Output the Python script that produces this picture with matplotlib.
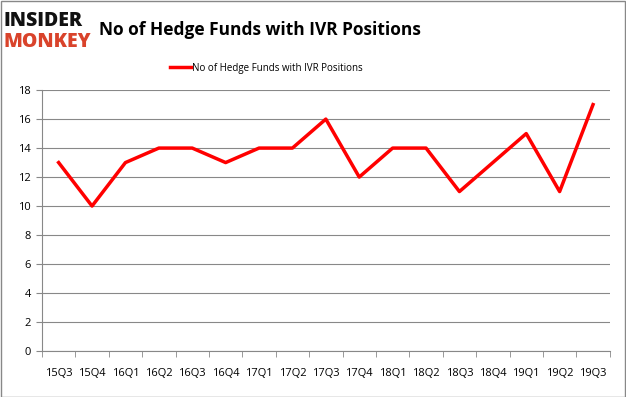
import matplotlib
matplotlib.use('Agg')
import matplotlib.pyplot as plt
from matplotlib.patches import Rectangle

# quarter labels and number of hedge funds
quarters = ['15Q3', '15Q4', '16Q1', '16Q2', '16Q3', '16Q4', '17Q1', '17Q2', '17Q3',
            '17Q4', '18Q1', '18Q2', '18Q3', '18Q4', '19Q1', '19Q2', '19Q3']
funds = [13, 10, 13, 14, 14, 13, 14, 14, 16, 12, 14, 14, 11, 13, 15, 11, 17]
yticks = [0, 2, 4, 6, 8, 10, 12, 14, 16, 18]

plt.rcParams['font.family'] = ['Open Sans', 'DejaVu Sans']

fig = plt.figure(figsize=(6.26, 3.97), dpi=100)
ax = fig.add_axes([0.067, 0.116, 0.907, 0.657])

x = list(range(len(quarters)))
ax.plot(x, funds, color='#ff0000', lw=2.5, label='No of Hedge Funds with IVR Positions')

ax.set_xlim(-0.5, len(quarters) - 0.5)
ax.set_ylim(0, 18)
ax.set_yticks(yticks)
ax.set_yticklabels([str(v) for v in yticks], fontsize=8)
ax.set_xticks(x)
ax.set_xticklabels(quarters, fontsize=8)
ax.set_xticks([i - 0.5 for i in range(len(quarters) + 1)], minor=True)
ax.tick_params(axis='x', which='major', length=0, pad=12)
ax.tick_params(axis='x', which='minor', length=4, color='#888888')
ax.tick_params(axis='y', length=4, color='#888888', pad=4)
ax.grid(axis='y', color='#888888', lw=0.8)
ax.set_axisbelow(True)
for s in ['top', 'right']:
    ax.spines[s].set_visible(False)
for s in ['left', 'bottom']:
    ax.spines[s].set_color('#888888')

ax.legend(loc='lower center', bbox_to_anchor=(0.395, 1.03), frameon=False, fontsize=7,
          handlelength=2.2, handletextpad=0.1)

fig.text(0.415, 0.925, 'No of Hedge Funds with IVR Positions', ha='center', va='center',
         fontsize=12.5, fontweight='bold')
fig.text(0.006, 0.947, 'INSIDER', ha='left', va='center', fontsize=14, fontweight='black',
         color='#111111')
fig.text(0.006, 0.893, 'MONKEY', ha='left', va='center', fontsize=14, fontweight='black',
         color='#d9432b')

fig.patches.append(Rectangle((0.001, 0.001), 0.997, 0.997, transform=fig.transFigure,
                             fill=False, edgecolor='#888888', lw=1))

fig.savefig('out.png', dpi=100)
